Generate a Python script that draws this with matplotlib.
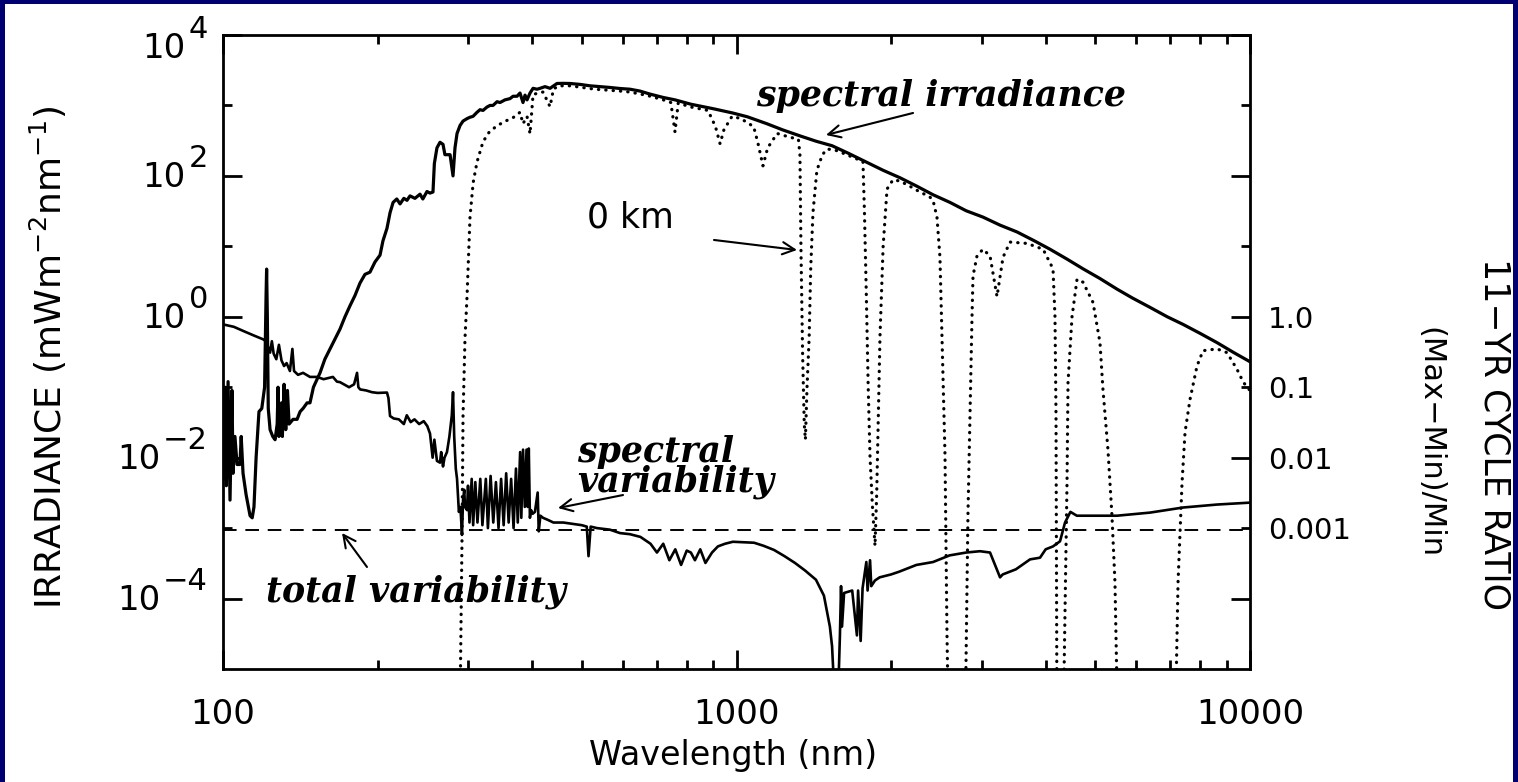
# -- BIBLIOTECAS --
import matplotlib
matplotlib.use('Agg')
import matplotlib.pyplot as plt
from matplotlib.patches import Rectangle
from matplotlib.ticker import NullFormatter, NullLocator

# -- DADOS --
# Irradiância espectral no topo da atmosfera (mW m^-2 nm^-1)
wl_toa = [100.0, 100.9, 101.5, 102.3, 103.2, 104.1, 104.6, 105.5, 106.5, 107.9, 108.5, 109.4, 110.9,
          112.9, 114.0, 114.9, 116.0, 117.5, 119.0, 120.5, 121.3, 121.6, 122.0, 122.5, 123.5, 125.0,
          126.3, 127.5, 128.0, 128.5, 130.0, 130.5, 131.5, 132.5, 133.5, 134.5, 136.9, 139.4, 141.3,
          143.2, 145.8, 147.7, 150.0, 154.5, 157.9, 161.6, 166.7, 169.0, 172.8, 176.7, 180.7, 184.8,
          189.0, 193.3, 197.7, 202.2, 204.9, 208.6, 211.5, 214.4, 218.0, 221.2, 225.0, 228.2, 231.3,
          236.5, 241.9, 245.0, 249.6, 253.0, 256.4, 258.0, 261.0, 264.6, 268.2, 270.5, 276.8, 280.5,
          283.0, 285.6, 289.5, 293.4, 298.7, 302.7, 306.8, 312.4, 316.6, 320.9, 326.7, 331.1, 335.6,
          341.7, 346.3, 354.1, 362.2, 367.1, 373.7, 378.8, 383.9, 387.4, 390.9, 396.2, 401.6, 408.9,
          414.4, 423.8, 433.4, 447.1, 459.3, 474.0, 495.7, 518.5, 542.2, 567.0, 593.0, 620.2, 648.6,
          678.4, 719.3, 759.0, 815.4, 849.0, 900, 984, 1050, 1146, 1230, 1329, 1430, 1535, 1650,
          1787, 1930, 2082, 2240, 2414, 2605, 2800, 3020, 3260, 3518, 3800, 4078, 4400, 4729, 5100,
          5508, 5900, 6387, 6900, 7406, 8000, 8623, 9300, 10000]
irr_toa = [0.005, 0.1, 0.004, 0.12, 0.0025, 0.09, 0.006, 0.02, 0.008, 0.008, 0.02, 0.006, 0.003,
           0.0015, 0.0014, 0.002, 0.01, 0.045, 0.05, 0.1, 2.0, 4.75, 1.0, 0.05, 0.025, 0.02,
           0.018, 0.03, 0.1, 0.02, 0.06, 0.02, 0.11, 0.025, 0.09, 0.03, 0.035, 0.035, 0.045,
           0.05, 0.06, 0.06, 0.1, 0.16, 0.25, 0.35, 0.55, 0.67, 1.0, 1.43, 2.0, 3.0,
           4.0, 4.3, 6.0, 7.5, 12, 18, 30, 42, 47, 40, 48, 45, 52,
           48, 55, 47, 60, 57, 59, 150, 250, 300, 280, 200, 200, 100,
           250, 400, 520, 600, 650, 680, 700, 800, 870, 850, 950, 1000, 1000,
           1130, 1100, 1200, 1250, 1350, 1350, 1500, 1100, 1400, 1200, 1500, 1750, 1700,
           1750, 1850, 1750, 2050, 2060, 2050, 1990, 1900, 1850, 1800, 1740, 1700, 1600,
           1450, 1300, 1200, 1040, 980, 900, 780, 690, 550, 450, 370, 310, 268, 210,
           158, 120, 94, 72, 54, 42, 32, 26, 20, 16, 12, 9.1, 6.6, 4.8, 3.5,
           2.47, 1.85, 1.36, 1.0, 0.78, 0.58, 0.43, 0.31, 0.23]

# Irradiância ao nível do mar (0 km)
wl_sfc = [289.0, 292.1, 293.4, 296.0, 298.7, 302.7, 307, 312.4, 320.9, 330, 341.7, 355, 367.1,
          378.8, 383.9, 390.9, 396.2, 401.6, 410, 420, 433.4, 440, 450, 475, 500, 530, 560, 593,
          620, 650, 680, 720, 745, 759, 770, 815, 880, 910, 929, 945, 980, 1020, 1080, 1100, 1126,
          1150, 1200, 1260, 1320, 1329, 1335, 1345, 1355, 1362, 1372, 1385, 1395, 1409, 1434,
          1470, 1500, 1550, 1600, 1680, 1763, 1775, 1790, 1805, 1820, 1840, 1861, 1875, 1890,
          1903, 1930, 1964, 2017, 2072, 2150, 2250, 2381, 2414, 2457, 2490, 2547, 2570, 2590,
          2786, 2823, 2849, 2875, 2888, 2940, 3020, 3117, 3216, 3304, 3410, 3680, 3954, 4134,
          4171, 4190, 4209, 4324, 4402, 4422, 4502, 4604, 4729, 4946, 5103, 5172, 5289, 5385,
          5458, 5532, 7145, 7242, 7373, 7473, 7641, 7885, 8100, 8623, 9020, 9433, 9692, 9867, 10000]
irr_sfc = [1e-6, 0.0008, 0.04, 0.5, 1.94, 26, 80, 158, 305, 420, 515, 600, 670,
           800, 550, 700, 395, 1420, 1500, 1550, 960, 1700, 1900, 1900, 1800, 1700, 1650, 1600,
           1550, 1450, 1350, 1200, 1100, 420, 1080, 950, 850, 500, 285, 450, 700, 650, 500, 300, 139,
           250, 400, 360, 330, 200, 10, 0.3, 0.03, 0.018, 0.1, 0.5, 5, 30, 120,
           200, 240, 235, 215, 185, 160, 30, 2, 0.1, 0.01, 0.002, 0.00056, 0.003, 0.05,
           0.53, 10, 65, 88, 85, 75, 62, 50, 45, 26, 7, 0.011, 3e-5, 1e-6,
           1e-6, 0.0015, 0.039, 1.0, 3.8, 7.3, 9.1, 7.3, 1.94, 7.0, 11.5, 11, 9.1, 4.8,
           1.0, 0.04, 1e-6, 1e-6, 0.0044, 0.117, 1.0, 3.4, 3.1, 1.6, 0.43, 0.093, 0.013, 0.0015,
           1.7e-4, 1e-6, 1e-6, 1.7e-4, 0.0044, 0.023, 0.067, 0.2, 0.33, 0.35, 0.31, 0.18, 0.12, 0.1, 0.09]

# Razão de variabilidade no ciclo de 11 anos (Max-Min)/Min
wl_var = [100, 105, 110, 115, 119.6, 121.3, 123.5, 124.5, 125.5, 127, 128.5, 130, 131.5, 133, 135,
          136.5, 137.5, 140, 143.2, 147.7, 152.4, 157, 163.7, 166.7, 169, 172, 176, 180, 182.4,
          183.5, 185, 190, 195, 200, 208.6, 210, 211.5, 215, 220, 225, 228, 232, 236, 241, 246,
          250, 253, 256, 258, 261, 264.6, 266, 268.2, 270, 273, 276, 279, 280.5, 282, 284, 285.6,
          288, 290, 292, 293.4, 295, 296, 298.7, 300, 302, 305, 307, 310, 313, 317, 320, 325, 328,
          332, 336, 340, 344, 348, 352, 356, 360, 364, 368, 372, 375, 379, 381, 384, 387, 390, 392,
          394, 396, 398, 401, 405, 410, 412, 415, 420, 430, 440, 460, 480, 500, 511, 515, 520, 535,
          567, 593, 620, 650, 680, 700, 720, 740, 760, 780, 800, 815, 830, 850, 870, 896, 920, 950,
          984, 1030, 1082, 1130, 1183, 1240, 1300, 1360, 1428, 1480, 1520, 1535, 1555, 1575, 1590,
          1598, 1605, 1620, 1680, 1716, 1725, 1745, 1760, 1790, 1800, 1820, 1830, 1860, 1900, 2000,
          2072, 2240, 2414, 2600, 2800, 2980, 3117, 3260, 3300, 3500, 3730, 3900, 4000, 4134, 4266,
          4363, 4470, 4600, 4729, 5508, 6387, 7406, 8623, 10000]
ratio_var = [0.78, 0.72, 0.62, 0.54, 0.48, 0.45, 0.31, 0.45, 0.3, 0.25, 0.4, 0.24, 0.2, 0.22, 0.17,
             0.35, 0.17, 0.15, 0.16, 0.14, 0.14, 0.13, 0.14, 0.12, 0.118, 0.11, 0.1, 0.11, 0.16,
             0.1, 0.093, 0.09, 0.085, 0.083, 0.084, 0.07, 0.039, 0.036, 0.035, 0.03, 0.04, 0.032, 0.035, 0.03, 0.033,
             0.028, 0.022, 0.01, 0.018, 0.009, 0.0085, 0.012, 0.0075, 0.01, 0.012, 0.02, 0.04, 0.085, 0.02, 0.007, 0.005,
             0.0017, 0.002, 0.0008, 0.0025, 0.0035, 0.002, 0.0018, 0.004, 0.0012, 0.005, 0.0011, 0.0045, 0.0012, 0.005, 0.0011, 0.005, 0.001,
             0.0055, 0.0012, 0.0045, 0.001, 0.005, 0.0011, 0.006, 0.0012, 0.005, 0.001, 0.007, 0.0012, 0.012, 0.0014, 0.013, 0.002, 0.013, 0.002,
             0.0135, 0.0014, 0.0018, 0.0016, 0.0017, 0.0032, 0.0009, 0.0015, 0.0014, 0.0013, 0.0012, 0.0012, 0.00115, 0.0011, 0.00105, 0.0004, 0.00105, 0.001,
             0.00095, 0.00085, 0.00082, 0.00075, 0.0006, 0.00045, 0.0006, 0.00035, 0.0005, 0.0003, 0.00048, 0.00045, 0.00035, 0.0005, 0.00032, 0.00045, 0.00055, 0.0006,
             0.00064, 0.00063, 0.00062, 0.00056, 0.00049, 0.0004, 0.00032, 0.00025, 0.000185, 0.00011, 4e-5, 2.1e-5, 3e-6, 3e-6, 3e-5,
             0.00015, 4e-5, 0.00012, 0.00013, 3e-5, 0.00013, 2.5e-5, 0.00014, 0.00033, 0.00013, 0.00035, 0.00015, 0.00018, 0.0002, 0.00022,
             0.00024, 0.0003, 0.00033, 0.00041, 0.00045, 0.00047, 0.00045, 0.0002, 0.00022, 0.00026, 0.00036, 0.00038, 0.0005, 0.00055, 0.00065,
             0.0012, 0.0017, 0.0015, 0.0015, 0.0015, 0.00166, 0.00196, 0.00216, 0.0023]

# Variabilidade total (irradiância solar total)
total_var = 0.00095

# Eixos e rótulos
xticks = [100, 1000, 10000]
xticklabels = ['100', '1000', '10000']
yexp = [4, 2, 0, -2, -4]
rticks = [1.0, 0.1, 0.01, 0.001]
rticklabels = ['1.0', '0.1', '0.01', '0.001']

# -- FIGURA --
W, H = 1518, 782
fig = plt.figure(figsize=(W / 100, H / 100), dpi=100, facecolor='#000070')
fig.patches.append(Rectangle((5 / W, 0), 1508 / W, 778 / H, transform=fig.transFigure,
                             facecolor='white', edgecolor='none', zorder=-1))
ax = fig.add_axes([223 / W, 1 - 669 / H, 1027 / W, 634 / H])

ax.plot(wl_toa, irr_toa, color='black', lw=2.3)
ax.plot(wl_sfc, irr_sfc, color='black', lw=2.3, linestyle=(0, (0.1, 2.2)), dash_capstyle='round')
ax.plot(wl_var, ratio_var, color='black', lw=1.9)
ax.axhline(total_var, color='black', lw=1.4, dashes=(7, 4.5))

ax.set_xscale('log'); ax.set_yscale('log')
ax.set_xlim(100, 10000); ax.set_ylim(1e-5, 1e4)
ax.set_xticks(xticks); ax.set_xticklabels(xticklabels)
ax.set_xticks([m * d for d in (100, 1000) for m in range(2, 10)], minor=True)
ax.xaxis.set_minor_formatter(NullFormatter())
ax.set_yticks([10.0 ** e for e in yexp]); ax.set_yticklabels([])
ax.set_yticks([1e3, 1e1, 1e-1, 1e-3], minor=True)
ax.yaxis.set_minor_formatter(NullFormatter())
for s in ax.spines.values():
    s.set_linewidth(2.0)

# eixo direito com a razão de variabilidade
ax2 = ax.twinx()
ax2.set_yscale('log'); ax2.set_ylim(1e-5, 1e4)
ax2.set_yticks(rticks); ax2.set_yticklabels(rticklabels)
ax2.yaxis.set_minor_locator(NullLocator())
ax2.tick_params(length=0, labelsize=21, pad=13)
for s in ax2.spines.values():
    s.set_visible(False)

ax.tick_params(which='both', direction='in', top=True, right=True, left=True, width=2)
ax.tick_params(which='major', length=14)
ax.tick_params(which='minor', length=6.5)
ax.tick_params(axis='x', which='major', labelsize=24.5, pad=21)

# rótulos do eixo y à moda IDL (expoente grande)
renderer = fig.canvas.get_renderer()
for e in yexp:
    dy = -14 if e == 4 else -2
    ex = ax.annotate(str(e).replace('-', '\u2212'), xy=(0, 10.0 ** e), xycoords=ax.get_yaxis_transform(),
                     xytext=(-15, dy + 19), textcoords='offset pixels', ha='right', va='center', fontsize=22)
    w = ex.get_window_extent(renderer).width
    ax.annotate('10', xy=(0, 10.0 ** e), xycoords=ax.get_yaxis_transform(),
                xytext=(-15 - w - 3, dy), textcoords='offset pixels', ha='right', va='center', fontsize=24.5)

fig.text(48 / W, 1 - 357 / H, 'IRRADIANCE (mWm$^{-2}$nm$^{-1}$)', rotation=90,
         ha='center', va='center', fontsize=26)
fig.text(733 / W, 1 - 756 / H, 'Wavelength (nm)', ha='center', va='center', fontsize=24)
fig.text(1495 / W, 1 - 434 / H, '11\u2212YR CYCLE RATIO', rotation=270, ha='center', va='center', fontsize=25)
fig.text(1430 / W, 1 - 443 / H, '(Max\u2212Min)/Min', rotation=270, ha='center', va='center', fontsize=22)

# -- ANOTAÇÕES --
ital = dict(family='DejaVu Serif', style='italic', weight='bold', fontsize=25)
arr = dict(arrowstyle='->', lw=1.5, color='black', mutation_scale=22, shrinkA=0, shrinkB=0)
ax.text(0.519, 0.904, 'spectral irradiance', transform=ax.transAxes, ha='left', va='center', **ital)
ax.annotate('', xy=(0.5871, 0.8423), xytext=(0.6719, 0.877), xycoords='axes fraction', arrowprops=arr)
ax.text(0.3963, 0.7129, '0 km', transform=ax.transAxes, ha='center', va='center', fontsize=25)
ax.annotate('', xy=(0.5589, 0.6609), xytext=(0.4781, 0.6767), xycoords='axes fraction', arrowprops=arr)
ax.text(0.3447, 0.3186, 'spectral\nvariability', transform=ax.transAxes, ha='left', va='center',
        linespacing=0.85, **ital)
ax.annotate('', xy=(0.3262, 0.2539), xytext=(0.3895, 0.2744), xycoords='axes fraction', arrowprops=arr)
ax.text(0.0418, 0.1215, 'total variability', transform=ax.transAxes, ha='left', va='center', **ital)
ax.annotate('', xy=(0.1159, 0.2145), xytext=(0.1402, 0.1609), xycoords='axes fraction', arrowprops=arr)

fig.savefig('out.png', dpi=100, facecolor=fig.get_facecolor())
